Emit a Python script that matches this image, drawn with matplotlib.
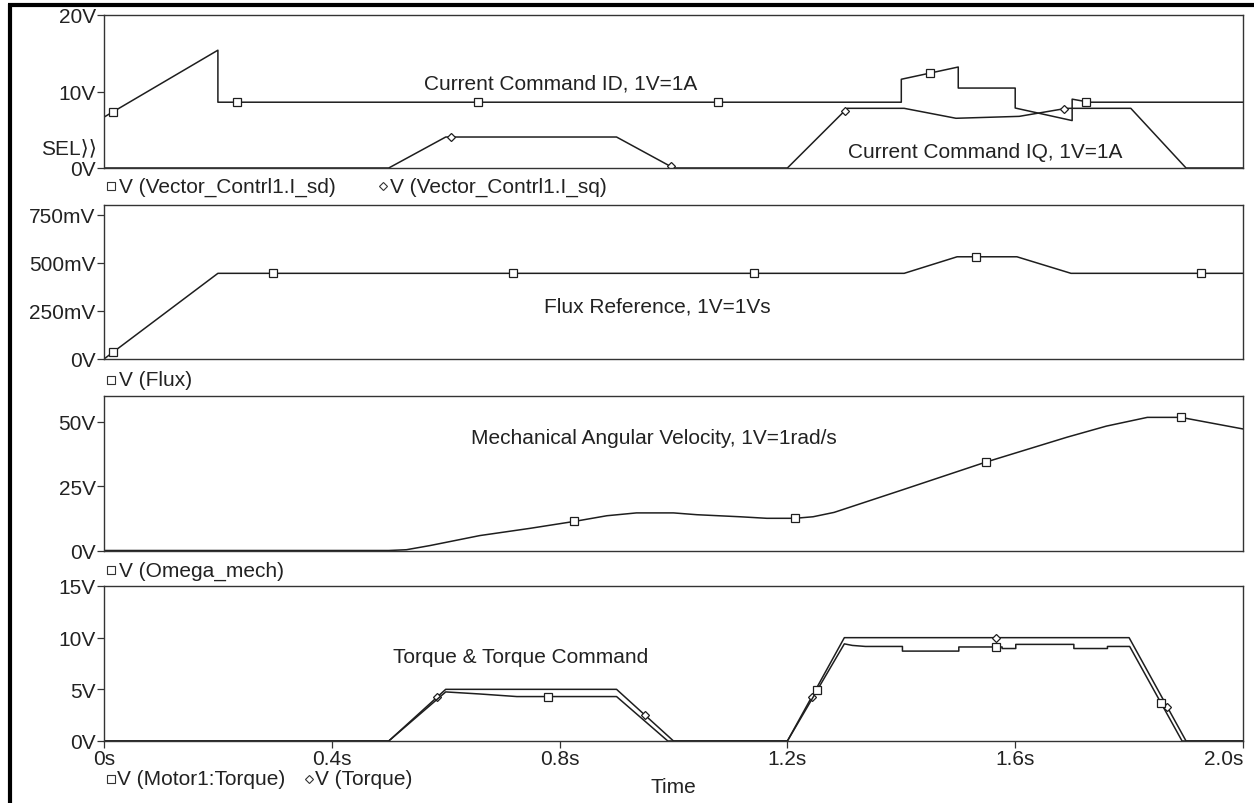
import matplotlib
matplotlib.use("Agg")
import matplotlib.pyplot as plt
from matplotlib.lines import Line2D
import numpy as np

plt.rcParams['font.family'] = ['Liberation Sans', 'DejaVu Sans']
plt.rcParams['font.size'] = 15

# ---- data (time in s) ----
# current command ID / IQ (1V = 1A)
t_id = [0, 0.2, 0.2, 1.40, 1.40, 1.50, 1.50, 1.60, 1.60, 1.70, 1.70, 1.73, 2.0]
v_id = [6.65, 15.4, 8.6, 8.6, 11.6, 13.2, 10.45, 10.45, 7.84, 6.2, 9.0, 8.6, 8.6]
t_iq = [0, 0.5, 0.6, 0.9, 1.0, 1.2, 1.305, 1.405, 1.496, 1.607, 1.69, 1.803, 1.90, 2.0]
v_iq = [0, 0, 4.05, 4.05, 0, 0, 7.8, 7.8, 6.5, 6.75, 7.8, 7.8, 0, 0]
mk_id = [0.016, 0.234, 0.657, 1.078, 1.45, 1.724]
mk_iq = [0.609, 0.995, 1.301, 1.686]

# flux reference (1V = 1Vs)
t_flux = [0, 0.2, 1.405, 1.498, 1.603, 1.698, 2.0]
v_flux = [0, 0.445, 0.445, 0.531, 0.531, 0.445, 0.445]
mk_flux = [0.016, 0.297, 0.718, 1.141, 1.531, 1.926]

# mechanical angular velocity (1V = 1rad/s)
t_w = [0, 0.5, 0.531, 0.572, 0.660, 0.748, 0.826, 0.883, 0.935, 1.0, 1.041,
       1.117, 1.164, 1.213, 1.245, 1.282, 1.40, 1.548, 1.691, 1.76, 1.832,
       1.891, 2.0]
v_w = [0, 0, 0.3, 1.9, 5.8, 8.6, 11.3, 13.5, 14.6, 14.6, 13.9,
       13.1, 12.5, 12.5, 13.1, 14.8, 23.4, 34.3, 44.0, 48.3, 51.7,
       51.7, 47.2]
mk_w = [0.826, 1.213, 1.548, 1.891]

# torque command and motor torque
t_tc = [0, 0.5, 0.6, 0.9, 1.0, 1.2, 1.3, 1.8, 1.9, 2.0]
v_tc = [0, 0, 5, 5, 0, 0, 10, 10, 0, 0]
t_ta = [0, 0.5, 0.6, 0.66, 0.725, 0.9, 0.99, 1.2, 1.30, 1.314, 1.337, 1.402,
        1.402, 1.501, 1.501, 1.577, 1.577, 1.601, 1.601, 1.703, 1.703, 1.762,
        1.762, 1.801, 1.893, 2.0]
v_ta = [0, 0, 4.75, 4.55, 4.3, 4.3, 0, 0, 9.4, 9.25, 9.15, 9.15,
        8.7, 8.7, 9.1, 9.1, 8.95, 8.95, 9.35, 9.35, 8.95, 8.95,
        9.15, 9.15, 0, 0]
mk_ta = [0.78, 1.252, 1.566, 1.856]
mk_tc = [0.585, 0.95, 1.243, 1.566, 1.867]

x_ticks = [0, 0.4, 0.8, 1.2, 1.6, 2.0]
x_labels = ['0s', '0.4s', '0.8s', '1.2s', '1.6s', '2.0s']

LC = '#1e1e1e'
TC = '#222222'

fig = plt.figure(figsize=(12.54, 8.04), dpi=100)
W, H = 1254.0, 804.0


def make_ax(top, bottom):
    ax = fig.add_axes([104 / W, 1 - bottom / H, 1139 / W, (bottom - top) / H])
    ax.set_xlim(0, 2.0)
    for s in ax.spines.values():
        s.set_color('#333333')
        s.set_linewidth(1.0)
    ax.tick_params(axis='y', direction='out', length=5, width=0.9, pad=1,
                   colors='#333333', labelcolor=TC, labelsize=15)
    ax.tick_params(axis='x', bottom=False, labelbottom=False)
    return ax


def trace(ax, t, v, mk, marker, ms):
    ax.plot(t, v, color=LC, lw=1.1, clip_on=True)
    ax.plot(mk, np.interp(mk, t, v), ls='none', marker=marker, ms=ms,
            mfc='white', mec=LC, mew=0.9)


def legend_item(xpx, ypx, marker, ms, label, gap):
    fig.add_artist(Line2D([xpx / W], [1 - ypx / H], marker=marker, ms=ms,
                          mfc='white', mec='#333333', mew=0.8, ls='none',
                          transform=fig.transFigure))
    fig.text((xpx + gap) / W, 1 - ypx / H, label, ha='left', va='center',
             color=TC, fontsize=15)


# panel 1: current commands
ax1 = make_ax(16, 169)
ax1.set_ylim(0, 20)
ax1.set_yticks([0, 10, 20])
ax1.set_yticklabels(['0V', '10V', '20V'])
trace(ax1, t_id, v_id, mk_id, 's', 6)
trace(ax1, t_iq, v_iq, mk_iq, 'D', 4)
ax1.text(0.801, 11.1, 'Current Command ID, 1V=1A', ha='center', va='center', color=TC)
ax1.text(1.547, 2.2, 'Current Command IQ, 1V=1A', ha='center', va='center', color=TC)
ax1.text(-0.006, 0.13, 'SEL\u27e9\u27e9', transform=ax1.transAxes, ha='right',
         va='center', color=TC)
legend_item(111, 187, 's', 6, 'V (Vector_Contrl1.I_sd)', 8)
legend_item(383, 187, 'D', 4, 'V (Vector_Contrl1.I_sq)', 7)

# panel 2: flux
ax2 = make_ax(206, 360)
ax2.set_ylim(0, 0.8)
ax2.set_yticks([0, 0.25, 0.5, 0.75])
ax2.set_yticklabels(['0V', '250mV', '500mV', '750mV'])
trace(ax2, t_flux, v_flux, mk_flux, 's', 6)
ax2.text(0.971, 0.273, 'Flux Reference, 1V=1Vs', ha='center', va='center', color=TC)
legend_item(111, 381, 's', 6, 'V (Flux)', 8)

# panel 3: omega
ax3 = make_ax(397, 551.5)
ax3.set_ylim(0, 60)
ax3.set_yticks([0, 25, 50])
ax3.set_yticklabels(['0V', '25V', '50V'])
trace(ax3, t_w, v_w, mk_w, 's', 6)
ax3.text(0.966, 43.7, 'Mechanical Angular Velocity, 1V=1rad/s', ha='center',
         va='center', color=TC)
legend_item(111, 571, 's', 6, 'V (Omega_mech)', 8)

# panel 4: torque
ax4 = make_ax(587, 742)
ax4.set_ylim(0, 15)
ax4.set_yticks([0, 5, 10, 15])
ax4.set_yticklabels(['0V', '5V', '10V', '15V'])
trace(ax4, t_tc, v_tc, mk_tc, 'D', 4)
trace(ax4, t_ta, v_ta, mk_ta, 's', 6)
ax4.text(0.731, 8.2, 'Torque & Torque Command', ha='center', va='center', color=TC)
ax4.tick_params(axis='x', bottom=True, labelbottom=True, direction='out',
                length=5, width=0.9, pad=1, colors='#333333', labelcolor=TC,
                labelsize=15)
ax4.set_xticks(x_ticks)
ax4.set_xticklabels(x_labels)
ax4.get_xticklabels()[-1].set_ha('right')
legend_item(111, 780, 's', 6, 'V (Motor1:Torque)', 6)
legend_item(309, 780, 'D', 4, 'V (Torque)', 6)
fig.text(673 / W, 1 - 788 / H, 'Time', ha='center', va='center', color=TC, fontsize=15)

# thick frame on left and top
fig.add_artist(Line2D([9.5 / W, 9.5 / W], [0, 1 - 5 / H], lw=3, color='black',
                      transform=fig.transFigure, solid_capstyle='butt'))
fig.add_artist(Line2D([8 / W, 1], [1 - 5.5 / H, 1 - 5.5 / H], lw=3, color='black',
                      transform=fig.transFigure, solid_capstyle='butt'))

fig.savefig('out.png', dpi=100)
